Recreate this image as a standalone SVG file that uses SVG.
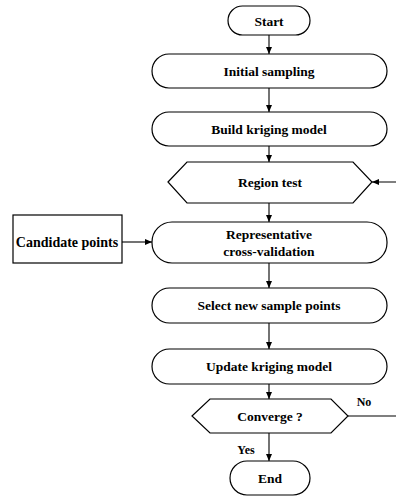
<svg xmlns="http://www.w3.org/2000/svg" width="396" height="498" viewBox="0 0 396 498">
<style>
.s{fill:#fff;stroke:#000;stroke-width:1.2}
.t{font-family:"Liberation Serif","Times New Roman",serif;font-weight:bold;font-size:13.5px;fill:#000;text-anchor:middle;dominant-baseline:central}
.c{fill:none;stroke:#000;stroke-width:1.1}
</style>
<defs>
<marker id="a" markerWidth="8" markerHeight="8" refX="7" refY="4" orient="auto" markerUnits="userSpaceOnUse">
<path d="M0,1 L7,4 L0,7 Z" fill="#000"/>
</marker>
</defs>
<rect width="396" height="498" fill="#fff"/>
<g id="connectors">
<path class="c" d="M269,35 V54" marker-end="url(#a)"/>
<path class="c" d="M269,88 V112" marker-end="url(#a)"/>
<path class="c" d="M269,146 V162" marker-end="url(#a)"/>
<path class="c" d="M269,203 V222" marker-end="url(#a)"/>
<path class="c" d="M122,242 H152" marker-end="url(#a)"/>
<path class="c" d="M269,263 V288" marker-end="url(#a)"/>
<path class="c" d="M269,323 V349" marker-end="url(#a)"/>
<path class="c" d="M269,384 V399" marker-end="url(#a)"/>
<path class="c" d="M269,433 V461" marker-end="url(#a)"/>
<path class="c" d="M348,416 H400 V182 H372" marker-end="url(#a)"/>
<text class="t" x="246" y="450" style="font-size:12px">Yes</text>
<text class="t" x="364" y="402" style="font-size:12px">No</text>
</g>
<g id="start"><rect class="s" x="228" y="6" width="82" height="29" rx="14.5"/><text class="t" x="269" y="21">Start</text></g>
<g id="initial"><rect class="s" x="152" y="54" width="235" height="34" rx="17"/><text class="t" x="269" y="71">Initial sampling</text></g>
<g id="build"><rect class="s" x="152" y="112" width="235" height="34" rx="17"/><text class="t" x="269" y="129">Build kriging model</text></g>
<g id="region"><polygon class="s" points="168,182 187,162 353,162 372,182 353,203 187,203"/><text class="t" x="270" y="182">Region test</text></g>
<g id="candidate"><rect class="s" x="13" y="215" width="109" height="48"/><text class="t" x="67" y="242" style="font-size:14px">Candidate points</text></g>
<g id="repcv"><rect class="s" x="152" y="222" width="235" height="41" rx="20"/><text class="t" x="269" y="234">Representative</text><text class="t" x="269" y="251">cross-validation</text></g>
<g id="select"><rect class="s" x="152" y="288" width="235" height="35" rx="17.5"/><text class="t" x="269" y="305">Select new sample points</text></g>
<g id="update"><rect class="s" x="152" y="349" width="235" height="35" rx="17.5"/><text class="t" x="269" y="366">Update kriging model</text></g>
<g id="converge"><polygon class="s" points="192,416 210,399 331,399 348,416 331,433 210,433"/><text class="t" x="270" y="416">Converge ?</text></g>
<g id="end"><rect class="s" x="230" y="461" width="80" height="34" rx="17"/><text class="t" x="270" y="478">End</text></g>
</svg>
